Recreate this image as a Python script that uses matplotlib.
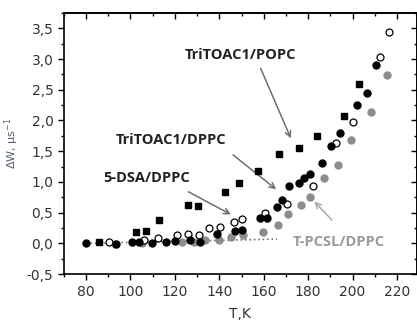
import matplotlib.pyplot as plt
from matplotlib.ticker import MultipleLocator, FuncFormatter

# TriTOAC1/POPC (black squares)
popc_T = [86, 102.6, 107, 112.8, 126.1, 130.2, 142.6, 148.7, 157.2, 167.1, 175.9, 183.9, 196.2, 203.1]
popc_dW = [0.02, 0.19, 0.2, 0.38, 0.62, 0.61, 0.84, 0.98, 1.18, 1.45, 1.56, 1.75, 2.07, 2.59]

# TriTOAC1/DPPC (black circles)
tri_T = [80, 93.5, 100.5, 104, 109.8, 116, 120, 126.6, 131.2, 139.1, 146.9, 150.2, 158.3, 161.4,
         166, 168.1, 171.6, 175.9, 178.3, 180.9, 186.4, 190.4, 194.4, 201.9, 206.4, 210.5]
tri_dW = [0.0, -0.01, 0.02, 0.02, 0.01, 0.02, 0.04, 0.05, 0.02, 0.16, 0.2, 0.22, 0.42, 0.42,
          0.59, 0.71, 0.93, 0.99, 1.07, 1.13, 1.31, 1.58, 1.8, 2.25, 2.44, 2.91]

# 5-DSA/DPPC (open circles)
dsa_T = [90.5, 106, 112.2, 121, 126.1, 131, 135.4, 140.4, 146.4, 150.3, 160.6, 170.4, 182.4,
         192.5, 200.4, 212.4, 216.6]
dsa_dW = [0.02, 0.06, 0.09, 0.13, 0.15, 0.14, 0.25, 0.27, 0.35, 0.39, 0.49, 0.64, 0.94,
          1.63, 1.98, 3.04, 3.44]

# T-PCSL/DPPC (gray circles)
pcsl_T = [93, 105, 123.3, 128.7, 133.5, 139.8, 145.2, 150.6, 159.8, 166.3, 171.1, 177, 181,
          187, 193.4, 199.4, 208.2, 215.7]
pcsl_dW = [-0.01, 0.0, 0.02, 0.03, 0.06, 0.05, 0.11, 0.13, 0.19, 0.3, 0.48, 0.62, 0.75,
           1.06, 1.27, 1.68, 2.14, 2.74]

# dotted baseline
base_T = [80, 166]
base_dW = [0.0, 0.07]

fig = plt.figure(figsize=(4.17, 3.24), dpi=100)
ax = fig.add_axes([0.153, 0.154, 0.847, 0.806])

ax.plot(base_T, base_dW, ':', color='#777777', lw=1.2, zorder=1)
ax.plot(pcsl_T, pcsl_dW, 'o', color='#8c8c8c', ms=5, mec='#8c8c8c', zorder=2)
ax.plot(dsa_T, dsa_dW, 'o', mfc='white', mec='black', mew=0.9, ms=5, zorder=3)
ax.plot(tri_T, tri_dW, 'o', color='black', ms=5, zorder=4)
ax.plot(popc_T, popc_dW, 's', color='black', ms=4.2, zorder=5)

tfont = dict(fontsize=10.5, fontweight='bold', family='Open Sans', ha='center', va='center')
ax.text(149.4, 3.07, 'TriTOAC1/POPC', color='#222222', **tfont)
ax.text(118.3, 1.68, 'TriTOAC1/DPPC', color='#222222', **tfont)
ax.text(107.5, 1.06, '5-DSA/DPPC', color='#222222', **tfont)
ax.text(193.7, 0.03, 'T-PCSL/DPPC', color='#9a9a9a', **tfont)

arr = dict(arrowstyle='->', color='#6e6e6e', lw=1.1, shrinkA=0, shrinkB=0)
ax.annotate('', xy=(172.2, 1.71), xytext=(158.6, 2.85), arrowprops=arr)
ax.annotate('', xy=(165.6, 0.88), xytext=(146.2, 1.44), arrowprops=arr)
ax.annotate('', xy=(145.2, 0.47), xytext=(126.1, 0.84), arrowprops=arr)
ax.annotate('', xy=(182.8, 0.68), xytext=(190.7, 0.38),
            arrowprops=dict(arr, color='#a8a8a8'))

ax.set_xlim(70, 229)
ax.set_ylim(-0.5, 3.75)
ax.xaxis.set_major_locator(MultipleLocator(20))
ax.xaxis.set_minor_locator(MultipleLocator(10))
ax.yaxis.set_major_locator(MultipleLocator(0.5))
ax.yaxis.set_minor_locator(MultipleLocator(0.25))
ax.yaxis.set_major_formatter(FuncFormatter(lambda v, p: f'{v:.1f}'.replace('.', ',')))

ax.tick_params(which='both', direction='out', labelsize=10, labelcolor='#333333', width=1)
ax.tick_params(which='major', length=4)
ax.tick_params(which='minor', length=2)
# mirrored ticks on top and right, pointing inward
top = ax.secondary_xaxis('top')
top.xaxis.set_major_locator(MultipleLocator(20))
top.xaxis.set_minor_locator(MultipleLocator(10))
top.tick_params(which='both', direction='in', labeltop=False, width=1)
top.tick_params(which='major', length=4)
top.tick_params(which='minor', length=2)
right = ax.secondary_yaxis('right')
right.yaxis.set_major_locator(MultipleLocator(0.5))
right.yaxis.set_minor_locator(MultipleLocator(0.25))
right.tick_params(which='both', direction='in', labelright=False, width=1)
right.tick_params(which='major', length=4)
right.tick_params(which='minor', length=2)
for a in (ax, top, right):
    for s in a.spines.values():
        s.set_linewidth(1.2)

ax.set_xlabel('T,K', fontsize=10, color='#333333', labelpad=6)
ax.set_ylabel('ΔW, μs$^{-1}$', fontsize=8, color='#556070', labelpad=4)

fig.savefig('out.png', dpi=100)
